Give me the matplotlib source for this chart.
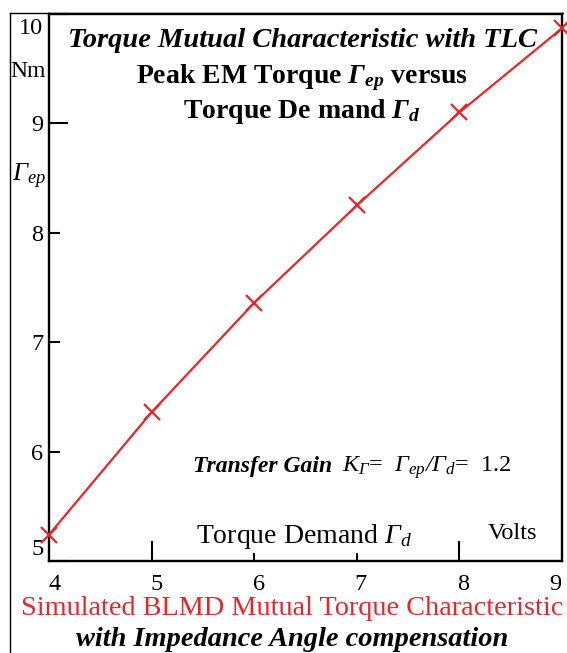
import matplotlib
matplotlib.use("Agg")
import matplotlib.pyplot as plt
from matplotlib.lines import Line2D
from matplotlib.transforms import ScaledTranslation

# torque demand (V) vs peak EM torque (Nm)
demand = [4, 5, 6, 7, 8, 9]
peak_torque = [5.24, 6.36, 7.36, 8.25, 9.10, 9.87]
x_ticks = [4, 5, 6, 7, 8, 9]
y_ticks = [5, 6, 7, 8, 9, 10]

plt.rcParams["font.family"] = "Liberation Serif"
plt.rcParams["mathtext.fontset"] = "custom"
plt.rcParams["mathtext.rm"] = "Liberation Serif:italic"
plt.rcParams["mathtext.it"] = "Liberation Serif:italic"
plt.rcParams["mathtext.bf"] = "Liberation Serif:italic:bold"

red = "#e8252a"
W, H = 567, 653
fig = plt.figure(figsize=(W / 100, H / 100), dpi=100)
ax = fig.add_axes([49 / W, 1 - 561 / H, (562 - 49) / W, (561 - 14) / H])

ax.plot(demand, peak_torque, color=red, lw=1.6, marker="x", ms=11, mew=1.6,
        clip_on=False, zorder=5)
ax.set_xlim(4, 9)
ax.set_ylim(5, 10)
ax.set_xticks(x_ticks)
ax.set_yticks(y_ticks)
ax.tick_params(direction="in", labelsize=17.5, width=1.5, colors="black")
ax.tick_params(axis="x", pad=9)
ax.tick_params(axis="y", pad=4)
for sp in ax.spines.values():
    sp.set_linewidth(1.7)

def shift(dx, dy):
    return ScaledTranslation(dx / 100, dy / 100, fig.dpi_scale_trans)

for tick, L, dx in zip(ax.xaxis.get_major_ticks(), [0, 14.4, 5.8, 5.8, 14.4, 0],
                       [6, 5, 5, 4, 4, -7]):
    tick.tick1line.set_markersize(L)
    tick.label1.set_transform(tick.label1.get_transform() + shift(dx, 0))
for tick, L, dy in zip(ax.yaxis.get_major_ticks(), [13.7, 7.9, 7.9, 7.9, 13.7, 13.7],
                       [14, 0, 0, 0, 0, -12]):
    tick.tick1line.set_markersize(L)
    tick.label1.set_transform(tick.label1.get_transform() + shift(0, dy))

# outer frame
fig.add_artist(Line2D([10 / W, 10 / W], [0, 1 - 13 / H], color="black", lw=1))
fig.add_artist(Line2D([10 / W, 563 / W], [1 - 13 / H, 1 - 13 / H], color="black", lw=1))

def fx(x):
    return x / W

def fy(y):
    return 1 - y / H

fig.text(fx(302), fy(47), "Torque Mutual Characteristic with TLC", ha="center",
         va="baseline", fontsize=20.5, fontweight="bold", style="italic")
fig.text(fx(302), fy(83), r"Peak EM Torque $\mathbf{\Gamma_{ep}}$ versus", ha="center",
         va="baseline", fontsize=20, fontweight="bold")
fig.text(fx(302), fy(118), r"Torque De mand $\mathbf{\Gamma_{d}}$", ha="center",
         va="baseline", fontsize=20, fontweight="bold")
fig.text(fx(10), fy(77), "Nm", fontsize=17, va="baseline")
fig.text(fx(12), fy(181), r"$\Gamma_{ep}$", fontsize=19, va="baseline")
fig.text(fx(193), fy(472), "Transfer Gain", fontsize=17, va="baseline",
         fontweight="bold", style="italic")
fig.text(fx(342), fy(472), r"$K_{\Gamma}$=  $\Gamma_{ep}/\Gamma_{d}$=  1.2",
         fontsize=17.5, va="baseline")
fig.text(fx(196), fy(543), r"Torque Demand $\Gamma_{d}$", fontsize=20, va="baseline")
fig.text(fx(488), fy(539), "Volts", fontsize=17.5, va="baseline")
fig.text(fx(292), fy(615), "Simulated BLMD Mutual Torque Characteristic", color=red,
         fontsize=20.3, ha="center", va="baseline")
fig.text(fx(292), fy(646), "with Impedance Angle compensation", fontsize=20.4,
         ha="center", va="baseline", fontweight="bold", style="italic")

fig.savefig("out.png", dpi=100)
